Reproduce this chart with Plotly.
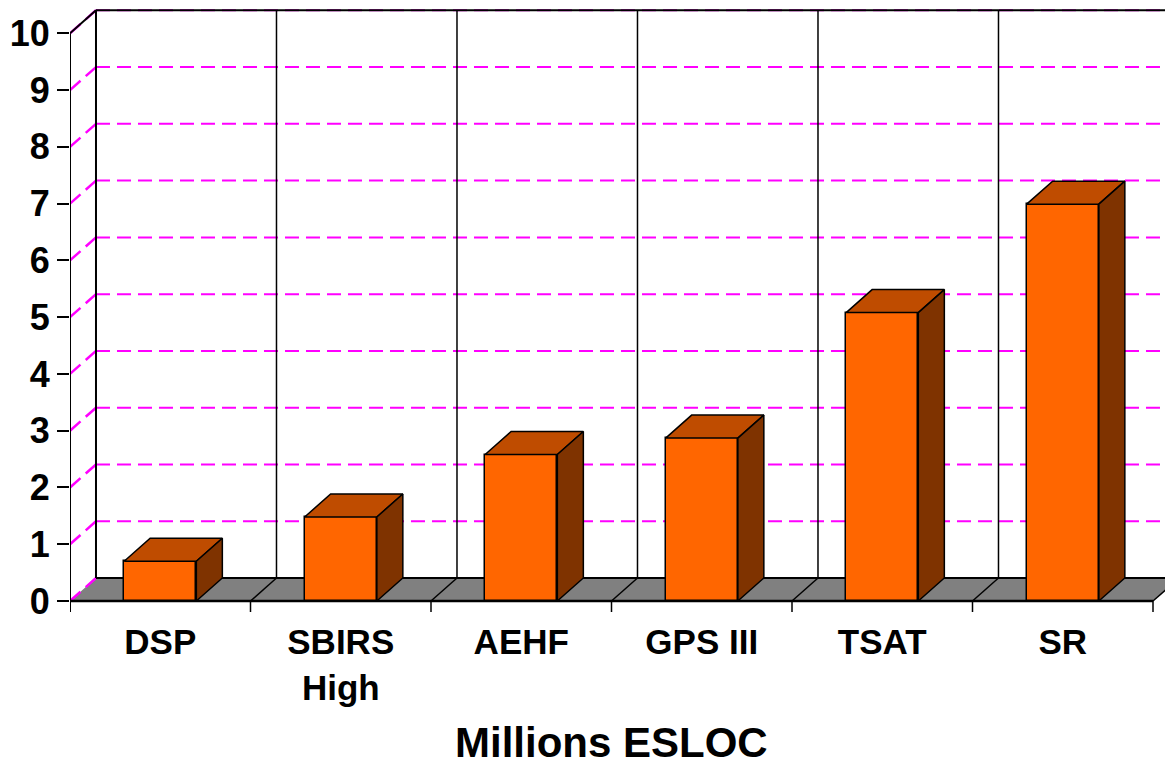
import plotly.graph_objects as go

# ---- data ----
categories = ["DSP", "SBIRS<br>High", "AEHF", "GPS III", "TSAT", "SR"]
values = [0.70, 1.48, 2.58, 2.87, 5.08, 6.99]
y_ticks = list(range(0, 11))
axis_title = "Millions ESLOC"

# ---- geometry (3D look) ----
DX = 0.144        # depth offset in category units
DY = 0.405        # depth offset in value units
BAR_W = 0.40
N = len(categories)
X_MAX = 6.0665
Y_MIN, Y_MAX = -0.1938, 10.428
TOP = max(y_ticks)

FONT = "Liberation Sans, Arial, sans-serif"
MAGENTA = "#FF00FF"
FRONT = "#FF6600"
TOPC = "#BF4C00"
SIDE = "#7F3300"
FLOOR = "#808080"

shapes = []
# floor
shapes.append(dict(type="path",
                   path=f"M 0,0 L {N},0 L {N+DX},{DY} L {DX},{DY} Z",
                   fillcolor=FLOOR, line=dict(width=0), layer="below",
                   xref="x", yref="y"))
# magenta gridlines on back wall + diagonals on left wall
for v in y_ticks:
    shapes.append(dict(type="line", x0=DX, x1=X_MAX + 1, y0=v + DY, y1=v + DY,
                       line=dict(color=MAGENTA, width=2, dash="14px,7px"),
                       layer="below", xref="x", yref="y"))
    shapes.append(dict(type="line", x0=0, x1=DX, y0=v, y1=v + DY,
                       line=dict(color=MAGENTA, width=2.5, dash="14px,7px"),
                       layer="below", xref="x", yref="y"))
# vertical category dividers on back wall
for k in range(0, N + 1):
    shapes.append(dict(type="line", x0=k + DX, x1=k + DX, y0=DY, y1=TOP + DY,
                       line=dict(color="black", width=2 if k == 0 else 1.5),
                       layer="below", xref="x", yref="y"))
# top edge of walls
shapes.append(dict(type="line", x0=0, x1=DX, y0=TOP, y1=TOP + DY,
                   line=dict(color="black", width=2), layer="below", xref="x", yref="y"))
shapes.append(dict(type="line", x0=DX, x1=X_MAX + 1, y0=TOP + DY, y1=TOP + DY,
                   line=dict(color="black", width=2), layer="below", xref="x", yref="y"))
# floor edges
shapes.append(dict(type="line", x0=DX, x1=N + DX, y0=DY, y1=DY,
                   line=dict(color="black", width=2), layer="below", xref="x", yref="y"))
shapes.append(dict(type="line", x0=0, x1=N, y0=0, y1=0,
                   line=dict(color="black", width=2.5), layer="below", xref="x", yref="y"))
for k in range(1, N + 1):
    shapes.append(dict(type="line", x0=k, x1=k + DX, y0=0, y1=DY,
                       line=dict(color="black", width=1.5), layer="below", xref="x", yref="y"))
# category ticks below the floor
for k in range(0, N + 1):
    shapes.append(dict(type="line", x0=k, x1=k, y0=0, y1=Y_MIN,
                       line=dict(color="black", width=2 if k == 0 else 1.5),
                       layer="below", xref="x", yref="y"))
# front value axis line
shapes.append(dict(type="line", x0=0, x1=0, y0=0, y1=TOP,
                   line=dict(color="black", width=2), layer="below", xref="x", yref="y"))

centers = [i + 0.5 for i in range(N)]

fig = go.Figure()
fig.add_trace(go.Bar(x=centers, y=values, width=BAR_W,
                     marker=dict(color=FRONT, line=dict(color="black", width=1.5)),
                     hoverinfo="skip", showlegend=False))
for c, v in zip(centers, values):
    l, r = c - BAR_W / 2, c + BAR_W / 2
    fig.add_trace(go.Scatter(x=[l, r, r + DX, l + DX, l], y=[v, v, v + DY, v + DY, v],
                             mode="lines", fill="toself", fillcolor=TOPC,
                             line=dict(color="black", width=1.5),
                             hoverinfo="skip", showlegend=False))
    fig.add_trace(go.Scatter(x=[r, r + DX, r + DX, r, r], y=[0, DY, v + DY, v, 0],
                             mode="lines", fill="toself", fillcolor=SIDE,
                             line=dict(color="black", width=1.5),
                             hoverinfo="skip", showlegend=False))

fig.update_layout(
    width=1165, height=767,
    margin=dict(l=70, r=0, t=9, b=155, autoexpand=False),
    paper_bgcolor="white", plot_bgcolor="white",
    shapes=shapes,
    bargap=0,
    xaxis=dict(range=[0, X_MAX], tickvals=centers, ticktext=categories,
               showgrid=False, zeroline=False, showline=False, ticks="",
               ticklabelstandoff=6,
               tickfont=dict(family=FONT, size=35, color="black", weight="bold"),
               fixedrange=True),
    yaxis=dict(range=[Y_MIN, Y_MAX], tickvals=y_ticks,
               showgrid=False, zeroline=False, showline=False,
               ticks="outside", ticklen=12, tickwidth=2, tickcolor="black",
               tickfont=dict(family=FONT, size=36, color="black", weight="bold"),
               fixedrange=True),
    annotations=[dict(text=axis_title, x=N / 2, xref="x", y=-0.217, yref="paper",
                      xanchor="center", yanchor="middle", showarrow=False,
                      font=dict(family=FONT, size=42, color="black", weight="bold"))],
)

fig.write_html("out.html")
